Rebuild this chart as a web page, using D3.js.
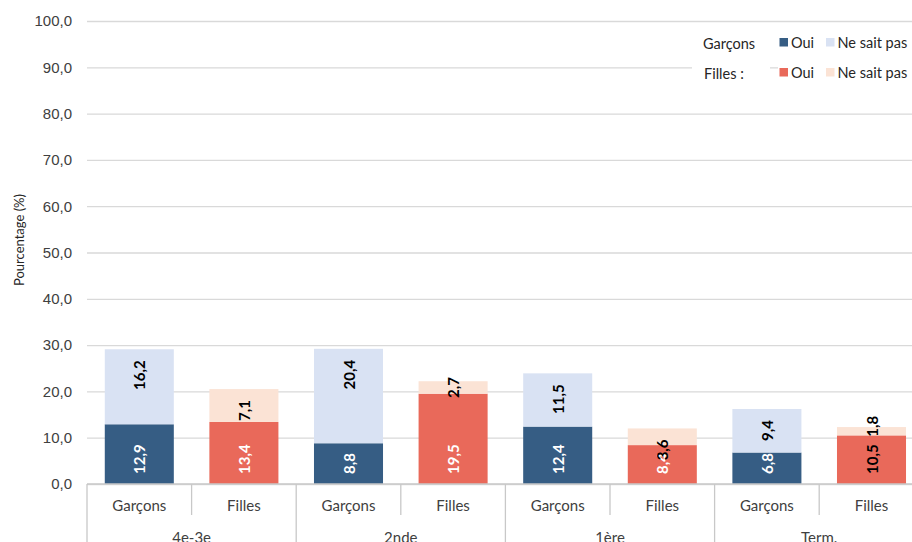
<!DOCTYPE html>
<html>
<head>
<meta charset="utf-8">
<script src="https://cdn.jsdelivr.net/npm/d3@7"></script>
<style>
  html, body { margin: 0; padding: 0; background: #fff; }
  svg { display: block; font-family: Lato, "Open Sans", sans-serif; }
</style>
</head>
<body>
<svg id="chart" width="912" height="542"></svg>
<script>
// ---- data ----
const levels = ["4e-3e", "2nde", "1ère", "Term."];
const genders = ["Garçons", "Filles"];
const garconsOui = [12.9, 8.8, 12.4, 6.8];
const garconsNsp = [16.2, 20.4, 11.5, 9.4];
const fillesOui = [13.4, 19.5, 8.4, 10.5];
const fillesNsp = [7.1, 2.7, 3.6, 1.8];
const yTicks = [0, 10, 20, 30, 40, 50, 60, 70, 80, 90, 100];
const yTitle = "Pourcentage (%)";
const legendRows = ["Garçons", "Filles :"];
const legendItems = ["Oui", "Ne sait pas"];

// ---- styles ----
const colours = {
  "Garçons": ["#365d84", "#d9e2f3"],
  "Filles": ["#e9695a", "#fbe3d5"]
};
const darkOuiLabels = ["Term.|Filles"];
const gridColour = "#d9d9d9";
const axisColour = "#c8c8c8";
const fmt = v => d3.format(".1f")(v).replace(".", ",");

const svg = d3.select("#chart");
const plotLeft = 87, plotTop = 21, plotBottom = 484, slot = 104.6;

const rows = [];
levels.forEach((lv, i) => {
  rows.push({ level: lv, gender: "Garçons", oui: garconsOui[i], nsp: garconsNsp[i] });
  rows.push({ level: lv, gender: "Filles", oui: fillesOui[i], nsp: fillesNsp[i] });
});

const y = d3.scaleLinear().domain([0, 100]).range([plotBottom, plotTop]);
const x = d3.scaleBand()
  .domain(rows.map(r => r.level + "|" + r.gender))
  .range([plotLeft, plotLeft + slot * rows.length])
  .paddingInner(0.34).paddingOuter(0.17);

// gridlines + y tick labels
const yAxis = d3.axisLeft(y).tickValues(yTicks).tickFormat(fmt)
  .tickSize(-(912 - plotLeft)).tickPadding(15);
const gy = svg.append("g").attr("transform", `translate(${plotLeft},0)`).call(yAxis);
gy.select(".domain").remove();
gy.selectAll(".tick line").attr("stroke", gridColour).attr("stroke-width", 1.3);
gy.selectAll(".tick text").attr("fill", "#404040").style("font-size", "15px");

// y title
svg.append("text")
  .attr("transform", `translate(19,240) rotate(-90)`)
  .attr("text-anchor", "middle").attr("dominant-baseline", "central")
  .style("font-size", "13px").attr("fill", "#262626")
  .text(yTitle);

// bars
const g = svg.append("g");
rows.forEach(r => {
  const key = r.level + "|" + r.gender;
  const bx = x(key), bw = x.bandwidth(), cx = bx + bw / 2;
  const [cOui, cNsp] = colours[r.gender];
  g.append("rect").attr("x", bx).attr("width", bw)
    .attr("y", y(r.oui)).attr("height", y(0) - y(r.oui)).attr("fill", cOui);
  g.append("rect").attr("x", bx).attr("width", bw)
    .attr("y", y(r.oui + r.nsp)).attr("height", y(r.oui) - y(r.oui + r.nsp)).attr("fill", cNsp);

  // Oui label: inside base
  g.append("text")
    .attr("transform", `translate(${cx},${y(0) - 10}) rotate(-90)`)
    .attr("text-anchor", "start").attr("dominant-baseline", "central")
    .style("font-size", "15px").style("font-weight", "bold")
    .attr("fill", darkOuiLabels.includes(key) ? "#000" : "#fff")
    .text(fmt(r.oui));

  // Ne sait pas label: inside end (centered when segment is thin)
  const segTop = y(r.oui + r.nsp), segH = y(r.oui) - segTop;
  const thin = segH < 15;
  g.append("text")
    .attr("transform", thin
      ? `translate(${cx},${segTop + segH / 2 - (segH < 10 ? 5 : 0)}) rotate(-90)`
      : `translate(${cx},${segTop + 11}) rotate(-90)`)
    .attr("text-anchor", thin ? "middle" : "end").attr("dominant-baseline", "central")
    .style("font-size", "15px").style("font-weight", "bold")
    .attr("fill", "#000")
    .text(fmt(r.nsp));
});

// x axis (multi-level)
const ax = svg.append("g");
ax.append("line").attr("x1", plotLeft).attr("x2", 912).attr("y1", plotBottom).attr("y2", plotBottom)
  .attr("stroke", axisColour).attr("stroke-width", 1.3);
rows.forEach((r, i) => {
  const key = r.level + "|" + r.gender;
  const slotLeft = plotLeft + i * x.step();
  const isGroupStart = r.gender === "Garçons";
  ax.append("line").attr("x1", slotLeft).attr("x2", slotLeft)
    .attr("y1", plotBottom).attr("y2", isGroupStart ? 542 : 515)
    .attr("stroke", axisColour).attr("stroke-width", 1.3);
  ax.append("text").attr("x", x(key) + x.bandwidth() / 2).attr("y", 505)
    .attr("text-anchor", "middle").attr("dominant-baseline", "central")
    .style("font-size", "15px").attr("fill", "#404040").text(r.gender);
});
levels.forEach((lv, i) => {
  ax.append("text").attr("x", plotLeft + (2 * i + 1) * x.step()).attr("y", 537)
    .attr("text-anchor", "middle").attr("dominant-baseline", "central")
    .style("font-size", "15px").attr("fill", "#404040").text(lv);
});

// legend
const lg = svg.append("g");
lg.append("rect").attr("x", 692).attr("y", 28).attr("width", 220).attr("height", 30).attr("fill", "#fff");
lg.append("rect").attr("x", 692).attr("y", 58).attr("width", 78).attr("height", 26).attr("fill", "#fff");
lg.append("rect").attr("x", 778).attr("y", 58).attr("width", 134).attr("height", 26).attr("fill", "#fff");
legendRows.forEach((lbl, ri) => {
  const cy = ri === 0 ? 42.5 : 72.5;
  const gKey = genders[ri];
  lg.append("text").attr("x", ri === 0 ? 703 : 704).attr("y", cy + 1)
    .attr("dominant-baseline", "central").style("font-size", "14.5px").attr("fill", "#262626").text(lbl);
  legendItems.forEach((it, k) => {
    const sx = k === 0 ? 779.5 : 826;
    lg.append("rect").attr("x", sx).attr("y", cy - 4.5).attr("width", 8.5).attr("height", 8.5)
      .attr("fill", colours[gKey][k]);
    lg.append("text").attr("x", sx + 11.5).attr("y", cy)
      .attr("dominant-baseline", "central").style("font-size", "14.5px").attr("fill", "#262626").text(it);
  });
});
</script>
</body>
</html>
